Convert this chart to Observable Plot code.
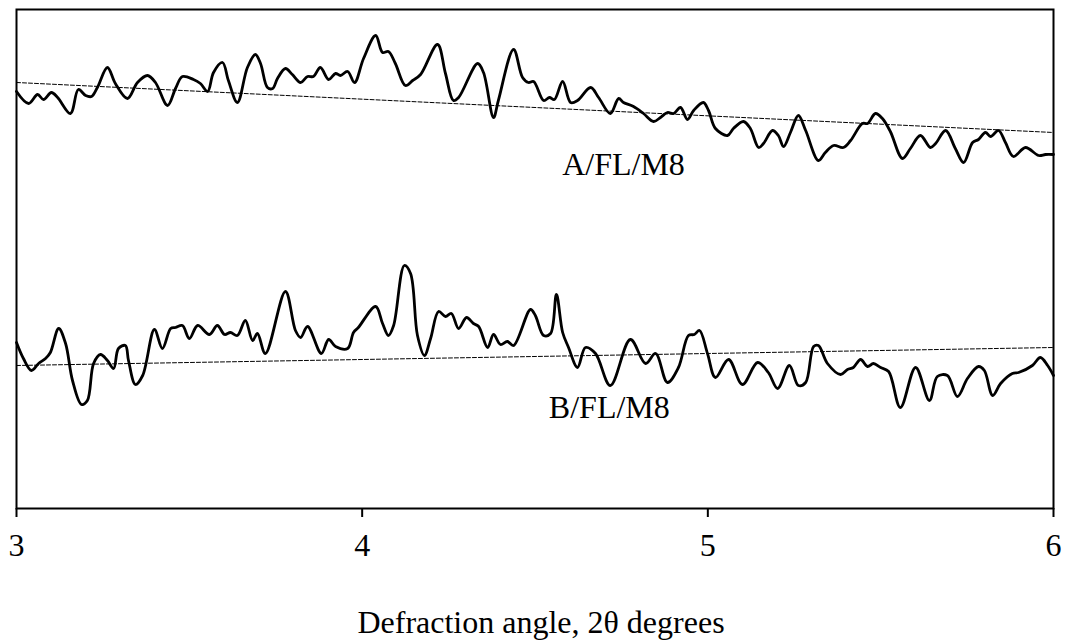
<!DOCTYPE html>
<html>
<head>
<meta charset="utf-8">
<script src="https://cdn.jsdelivr.net/npm/d3@7"></script>
<script src="https://cdn.jsdelivr.net/npm/@observablehq/plot@0.6"></script>
<style>
  html, body { margin: 0; padding: 0; background: white; }
  svg { display: block; }
</style>
</head>
<body>
<div id="chart"></div>
<script>
// Diffraction angle (2θ, degrees) and relative intensity (arbitrary units)
const angleA = [3.000,3.035,3.061,3.078,3.101,3.119,3.156,3.179,3.200,3.217,3.234,3.263,3.286,3.321,3.350,3.379,3.402,3.437,3.460,3.480,3.512,3.532,3.553,3.570,3.596,3.613,3.639,3.668,3.691,3.706,3.726,3.741,3.755,3.778,3.798,3.822,3.842,3.859,3.879,3.903,3.923,3.937,3.958,3.978,4.004,4.039,4.059,4.076,4.096,4.125,4.146,4.169,4.218,4.241,4.264,4.279,4.334,4.351,4.380,4.394,4.438,4.464,4.481,4.496,4.525,4.542,4.556,4.580,4.603,4.623,4.661,4.684,4.718,4.742,4.756,4.785,4.814,4.843,4.863,4.883,4.901,4.921,4.941,4.959,4.987,5.002,5.022,5.057,5.074,5.103,5.123,5.147,5.161,5.187,5.204,5.219,5.239,5.262,5.283,5.320,5.340,5.364,5.392,5.413,5.447,5.462,5.485,5.505,5.528,5.563,5.586,5.615,5.644,5.659,5.688,5.716,5.740,5.766,5.783,5.803,5.818,5.841,5.861,5.884,5.919,5.957,5.977,6.000];
const intensityA = [417,405,414,409,416,411,395,419,413,412,421,441,425,410,426,433,426,403,420,432,429,425,417,436,446,428,406,441,454,445,421,420,430,440,434,426,432,432,441,429,435,433,437,426,450,473,456,457,445,423,428,434,464,435,408,411,445,436,391,408,459,431,426,427,408,411,409,427,406,408,421,411,395,410,406,402,395,387,391,396,395,401,389,398,406,398,380,373,380,387,380,361,365,378,373,362,376,393,378,348,356,363,361,368,385,385,395,390,377,350,360,373,361,365,378,360,346,366,369,376,372,378,366,352,361,353,354,354];

const angleB = [3.000,3.020,3.043,3.064,3.084,3.098,3.122,3.142,3.162,3.188,3.205,3.223,3.243,3.263,3.281,3.295,3.315,3.324,3.344,3.365,3.399,3.422,3.446,3.460,3.480,3.500,3.524,3.558,3.581,3.602,3.619,3.639,3.662,3.683,3.697,3.720,3.778,3.807,3.822,3.842,3.882,3.903,3.923,3.958,3.975,3.989,4.039,4.059,4.076,4.091,4.122,4.140,4.160,4.180,4.198,4.221,4.241,4.258,4.279,4.302,4.322,4.337,4.363,4.380,4.400,4.420,4.438,4.487,4.501,4.525,4.545,4.562,4.580,4.597,4.623,4.646,4.675,4.718,4.776,4.820,4.849,4.883,4.915,4.944,4.961,4.976,4.999,5.022,5.060,5.100,5.144,5.175,5.202,5.236,5.262,5.283,5.306,5.320,5.346,5.384,5.404,5.421,5.442,5.462,5.479,5.500,5.523,5.557,5.601,5.641,5.664,5.693,5.722,5.751,5.783,5.800,5.824,5.847,5.881,5.899,5.939,5.962,5.983,6.000];
const intensityB = [166,150,138,145,150,156,180,165,128,104,108,145,154,148,140,160,163,148,124,133,179,160,180,181,183,170,183,174,183,174,176,173,188,168,175,155,217,178,171,182,155,169,162,160,176,181,202,185,173,183,243,235,173,153,170,197,192,195,180,191,185,182,161,174,164,167,163,199,193,173,175,214,176,161,141,161,155,123,169,145,155,126,141,173,174,178,155,131,149,124,146,136,120,143,123,126,162,163,145,134,139,141,149,142,145,141,137,101,141,108,132,133,112,130,142,138,113,125,135,136,143,151,143,133];

// Linear trend lines (start and end)
const trendAngles = [3, 6];
const trendA = [426, 376];
const trendB = [143, 161];

// Sample labels
const labelNames = ["A/FL/M8", "B/FL/M8"];
const labelAngles = [4.756, 4.715];
const labelIntensities = [334, 91];

const xTicks = [3, 4, 5, 6];
const xTitle = "Defraction angle, 2θ degrees";

const seriesA = angleA.map((a, i) => ({angle: a, intensity: intensityA[i]}));
const seriesB = angleB.map((a, i) => ({angle: a, intensity: intensityB[i]}));
const trends = [
  ...trendAngles.map((a, i) => ({series: "A", angle: a, intensity: trendA[i]})),
  ...trendAngles.map((a, i) => ({series: "B", angle: a, intensity: trendB[i]}))
];
const labels = labelNames.map((n, i) => ({name: n, angle: labelAngles[i], intensity: labelIntensities[i]}));

const font = "'Liberation Serif', 'Times New Roman', Times, serif";

const chart = Plot.plot({
  width: 1071,
  height: 642,
  marginLeft: 16,
  marginRight: 18,
  marginTop: 9,
  marginBottom: 134,
  style: {fontFamily: font, fontSize: "32px", background: "white", color: "black"},
  x: {domain: [3, 6], ticks: xTicks, label: null},
  y: {domain: [0, 499], axis: null},
  marks: [
    Plot.frame({stroke: "black", strokeWidth: 2}),
    Plot.axisX({ticks: xTicks, tickSize: 9, tickPadding: 16, tickFormat: d => String(d), strokeWidth: 2, fontSize: 32, label: null}),
    Plot.line(trends, {x: "angle", y: "intensity", z: "series", stroke: "black", strokeWidth: 1, strokeDasharray: "4,2"}),
    Plot.line(seriesA, {x: "angle", y: "intensity", stroke: "black", strokeWidth: 2.8, curve: "catmull-rom"}),
    Plot.line(seriesB, {x: "angle", y: "intensity", stroke: "black", strokeWidth: 2.8, curve: "catmull-rom"}),
    Plot.text(labels, {x: "angle", y: "intensity", text: "name", lineAnchor: "bottom", textAnchor: "middle", fontSize: 32, fill: "black"}),
    Plot.text([xTitle], {frameAnchor: "bottom", dx: 6, dy: 124, lineAnchor: "bottom", fontSize: 32, fill: "black"})
  ]
});
document.getElementById("chart").appendChild(chart);
</script>
</body>
</html>
